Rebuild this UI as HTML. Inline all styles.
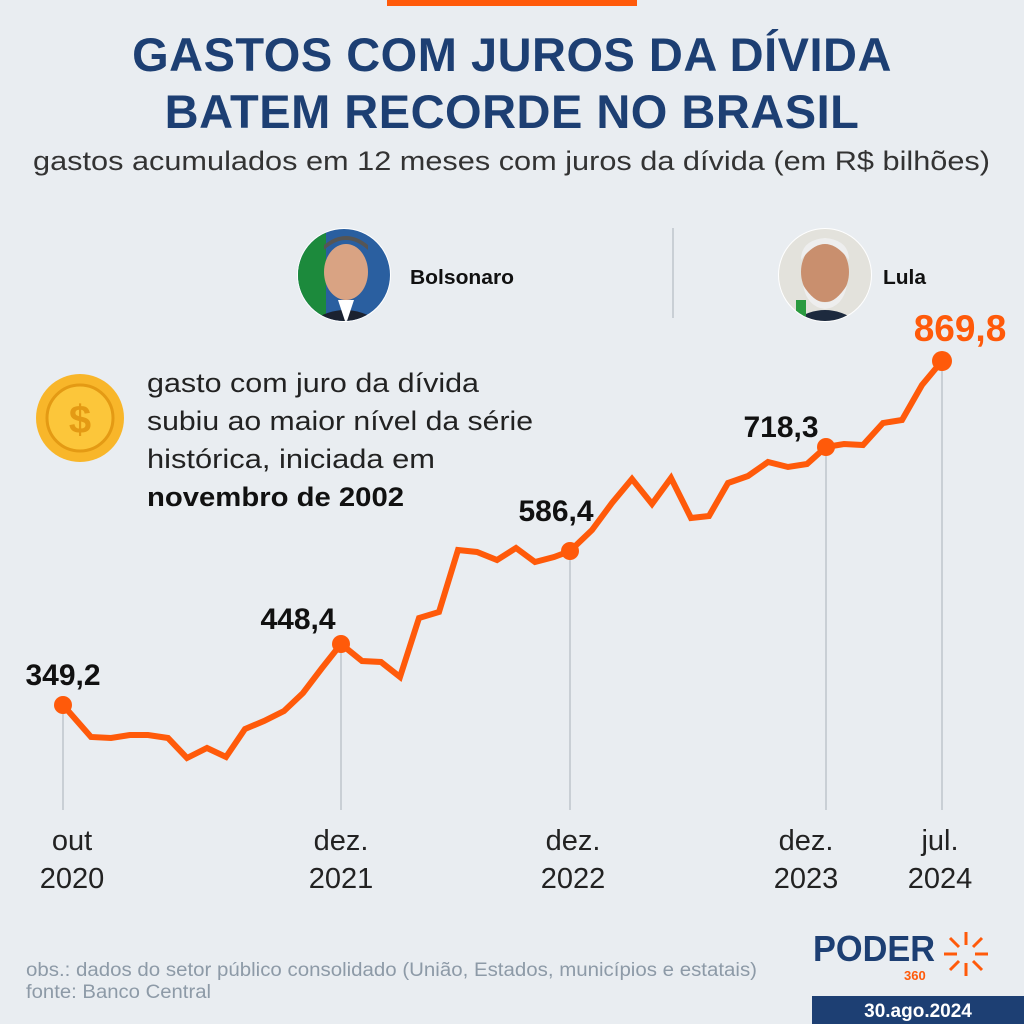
<!DOCTYPE html>
<html><head><meta charset="utf-8"><style>
html,body{margin:0;padding:0}
body{width:1024px;height:1024px;background:#e9edf1;position:relative;overflow:hidden;font-family:"Liberation Sans",sans-serif}
.abs{position:absolute}
</style></head><body>
<div class="abs" style="left:387px;top:0;width:250px;height:6px;background:#ff5a0a"></div>
<div class="abs" style="left:0;width:1024px;top:26px;text-align:center;font-weight:bold;font-size:47px;line-height:57px;color:#1d3f73;letter-spacing:0.5px">GASTOS COM JUROS DA DÍVIDA<br>BATEM RECORDE NO BRASIL</div>

<svg class="abs" style="left:0;top:0" width="1024" height="1024">
<defs>
<clipPath id="c1"><circle cx="344" cy="275" r="46"/></clipPath>
<clipPath id="c2"><circle cx="825" cy="275" r="46"/></clipPath>
</defs>
<text x="33" y="170" font-family="Liberation Sans" font-size="27" fill="#333" textLength="957" lengthAdjust="spacingAndGlyphs">gastos acumulados em 12 meses com juros da dívida (em R$ bilhões)</text>
<circle cx="344" cy="275" r="47" fill="#fff"/>
<g clip-path="url(#c1)"><rect x="296" y="228" width="96" height="96" fill="#2a5fa0"/><rect x="296" y="228" width="30" height="96" fill="#1c8a3c"/><ellipse cx="346" cy="272" rx="22" ry="28" fill="#d9a383"/><path d="M324 250 q22 -20 44 0 l0 -5 q-22 -18 -44 0z" fill="#555"/><path d="M300 330 q45 -40 90 0z" fill="#1b2230"/><path d="M338 300 l8 24 l8 -24z" fill="#fff"/></g>
<circle cx="825" cy="275" r="47" fill="#fff"/>
<g clip-path="url(#c2)"><rect x="778" y="228" width="96" height="96" fill="#e3e2dc"/><ellipse cx="825" cy="272" rx="24" ry="30" fill="#c98f6e"/><path d="M801 260 q24 -32 48 0 q0 -20 -24 -22 q-24 2 -24 22z" fill="#eee"/><path d="M803 285 q22 35 44 0 q-4 22 -22 24 q-18 -2 -22 -24z" fill="#eee"/><path d="M782 330 q43 -40 86 0z" fill="#1d2a3e"/><rect x="796" y="300" width="10" height="24" fill="#2a9a3f"/></g>
<line x1="673" y1="228" x2="673" y2="318" stroke="#c9cfd5" stroke-width="2"/>
<circle cx="80" cy="418" r="44" fill="#f8b62a"/><circle cx="80" cy="418" r="33" fill="#fcc63a" stroke="#e49a14" stroke-width="3"/>
<text x="80" y="433" font-size="40" font-weight="bold" fill="#e49a14" text-anchor="middle" font-family="Liberation Sans">$</text>
<g stroke="#c9cfd5" stroke-width="2">
<line x1="63" y1="705" x2="63" y2="810"/><line x1="341" y1="644" x2="341" y2="810"/><line x1="570" y1="551" x2="570" y2="810"/><line x1="826" y1="447" x2="826" y2="810"/><line x1="942" y1="361" x2="942" y2="810"/>
</g>
<polyline fill="none" stroke="#ff5a0a" stroke-width="6" stroke-linejoin="miter" points="63,705 91,737 111,738 130,735 148,735 168,738 187,758 207,748 226,757 245,729 264,721 284,711 303,693 322,668 341,644 362,661 381,662 400,677 419,618 439,612 458,550 477,552 497,560 516,548 535,562 554,557 570,551 592,530 612,503 632,479 652,504 671,478 691,518 709,516 728,483 748,476 768,462 788,467 807,464 826,447 844,444 863,445 883,423 902,420 922,385 942,361"/>
<g fill="#ff5a0a"><circle cx="63" cy="705" r="9"/><circle cx="341" cy="644" r="9"/><circle cx="570" cy="551" r="9"/><circle cx="826" cy="447" r="9"/><circle cx="942" cy="361" r="10"/></g>
<g font-family="Liberation Sans" font-weight="bold" font-size="30" fill="#111" text-anchor="middle">
<text x="63" y="685">349,2</text><text x="298" y="629">448,4</text><text x="556" y="521">586,4</text><text x="781" y="437">718,3</text>
<text x="960" y="341" fill="#ff5a0a" font-size="37">869,8</text>
</g>
<g font-family="Liberation Sans" font-size="29" fill="#222" text-anchor="middle">
<text x="72" y="850">out</text><text x="72" y="888">2020</text>
<text x="341" y="850">dez.</text><text x="341" y="888">2021</text>
<text x="573" y="850">dez.</text><text x="573" y="888">2022</text>
<text x="806" y="850">dez.</text><text x="806" y="888">2023</text>
<text x="940" y="850">jul.</text><text x="940" y="888">2024</text>
</g>
<g font-family="Liberation Sans" font-weight="bold" font-size="20" fill="#111">
<text x="410" y="284" textLength="104" lengthAdjust="spacingAndGlyphs">Bolsonaro</text><text x="883" y="284" textLength="43" lengthAdjust="spacingAndGlyphs">Lula</text>
</g>
<g font-family="Liberation Sans" font-size="27" fill="#222">
<text x="147" y="392" textLength="332" lengthAdjust="spacingAndGlyphs">gasto com juro da dívida</text>
<text x="147" y="430" textLength="386" lengthAdjust="spacingAndGlyphs">subiu ao maior nível da série</text>
<text x="147" y="468" textLength="288" lengthAdjust="spacingAndGlyphs">histórica, iniciada em</text>
<text x="147" y="506" font-weight="bold" fill="#111" textLength="257" lengthAdjust="spacingAndGlyphs">novembro de 2002</text>
</g>
<g font-family="Liberation Sans" font-size="19" fill="#8d9aa7">
<text x="26" y="976" textLength="731" lengthAdjust="spacingAndGlyphs">obs.: dados do setor público consolidado (União, Estados, municípios e estatais)</text>
<text x="26" y="998" textLength="185" lengthAdjust="spacingAndGlyphs">fonte: Banco Central</text>
</g>
<text x="813" y="961" font-family="Liberation Sans" font-weight="bold" font-size="36" fill="#1d3f73" textLength="122" lengthAdjust="spacingAndGlyphs">PODER</text>
<text x="904" y="980" font-family="Liberation Sans" font-weight="bold" font-size="13" fill="#ff5a0a">360</text>
<g stroke="#ff5a0a" stroke-width="3">
<line x1="966" y1="932" x2="966" y2="945"/><line x1="966" y1="963" x2="966" y2="976"/><line x1="944" y1="954" x2="957" y2="954"/><line x1="975" y1="954" x2="988" y2="954"/>
<line x1="950" y1="938" x2="959" y2="947"/><line x1="973" y1="961" x2="982" y2="970"/><line x1="982" y1="938" x2="973" y2="947"/><line x1="959" y1="961" x2="950" y2="970"/>
</g>
<rect x="812" y="996" width="212" height="28" fill="#1d3f73"/>
<text x="918" y="1017" font-family="Liberation Sans" font-weight="bold" font-size="19" fill="#fff" text-anchor="middle">30.ago.2024</text>
</svg>
</body></html>
